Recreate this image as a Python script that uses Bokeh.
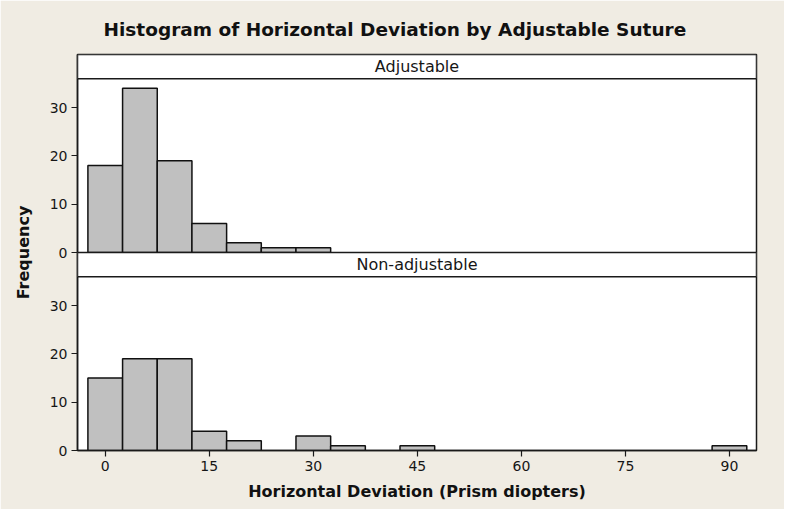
from bokeh.plotting import figure
from bokeh.models import Range1d, FixedTicker, BoxAnnotation, Label
from bokeh.embed import file_html
from bokeh.resources import INLINE

# ---- data ----
bin_width = 5
adj_centers = [0, 5, 10, 15, 20, 25, 30]
adj_counts = [18, 34, 19, 6, 2, 1, 1]
non_centers = [0, 5, 10, 15, 20, 30, 35, 45, 90]
non_counts = [15, 19, 19, 4, 2, 3, 1, 1, 1]
panel_names = ["Adjustable", "Non-adjustable"]
x_ticks = [0, 15, 30, 45, 60, 75, 90]
y_ticks = [0, 10, 20, 30]
title_text = "Histogram of Horizontal Deviation by Adjustable Suture"
x_label = "Horizontal Deviation (Prism diopters)"
y_label = "Frequency"

# ---- layout constants ----
PANEL = 41      # height of one panel (data units, incl. header)
HDR = 36        # header strip bottom within a panel
BEIGE = "#f0ece3"
FONT = "DejaVu Sans"
TXT = "#161616"

p = figure(width=784, height=509, output_backend="svg", toolbar_location=None,
           x_range=Range1d(-4, 93.9), y_range=Range1d(0, 2 * PANEL),
           min_border_left=77, min_border_right=28, min_border_top=54,
           min_border_bottom=59, title=title_text)
p.extra_y_ranges = {"top": Range1d(-PANEL, PANEL)}
p.background_fill_color = "white"
p.border_fill_color = BEIGE
p.outline_line_color = "#1a1a1a"
p.outline_line_width = 1.5
p.xgrid.visible = False
p.ygrid.visible = False

# title
p.title.align = "left"
p.title.offset = 26
p.title.standoff = 29
p.title.text_font = FONT
p.title.text_font_size = "18.5px"
p.title.text_font_style = "bold"
p.title.text_color = "#111111"

# bars
p.vbar(x=non_centers, width=bin_width, top=non_counts, bottom=0,
       fill_color="#c0c0c0", line_color="#111111", line_width=1.5)
p.vbar(x=adj_centers, width=bin_width, top=adj_counts, bottom=0,
       fill_color="#c0c0c0", line_color="#111111", line_width=1.5,
       y_range_name="top")

# header strips
xmid = (p.x_range.start + p.x_range.end) / 2
for i, name in enumerate(reversed(panel_names)):
    base = i * PANEL
    p.add_layout(BoxAnnotation(bottom=base + HDR, top=base + PANEL,
                               fill_color="white", fill_alpha=1.0,
                               line_color="#1a1a1a", line_alpha=1.0,
                               line_width=1.5))
    p.add_layout(Label(x=xmid, y=base + (HDR + PANEL) / 2, text=name,
                       text_align="center", text_baseline="middle",
                       text_font=FONT, text_font_size="16px", text_color=TXT))

# axes
ax = p.xaxis[0]
ax.ticker = FixedTicker(ticks=x_ticks)
ax.axis_label = x_label
ay = p.yaxis[0]
all_y = y_ticks + [t + PANEL for t in y_ticks]
ay.ticker = FixedTicker(ticks=all_y)
ay.major_label_overrides = {t + PANEL: str(t) for t in y_ticks}
ay.axis_label = y_label
for a in (ax, ay):
    a.axis_line_color = "#1a1a1a"
    a.axis_line_width = 1.5
    a.major_tick_line_color = "#1a1a1a"
    a.major_tick_line_width = 1.2
    a.major_tick_out = 6
    a.major_tick_in = 0
    a.minor_tick_line_color = None
    a.major_label_standoff = 4
    a.major_label_text_font = FONT
    a.major_label_text_font_size = "14px"
    a.major_label_text_color = TXT
    a.axis_label_text_font = FONT
    a.axis_label_text_font_size = "16px"
    a.axis_label_text_font_style = "bold"
    a.axis_label_text_color = "#111111"
ax.axis_label_standoff = 8
ay.axis_label_standoff = 14

open("out.html", "w").write(file_html(p, INLINE))
